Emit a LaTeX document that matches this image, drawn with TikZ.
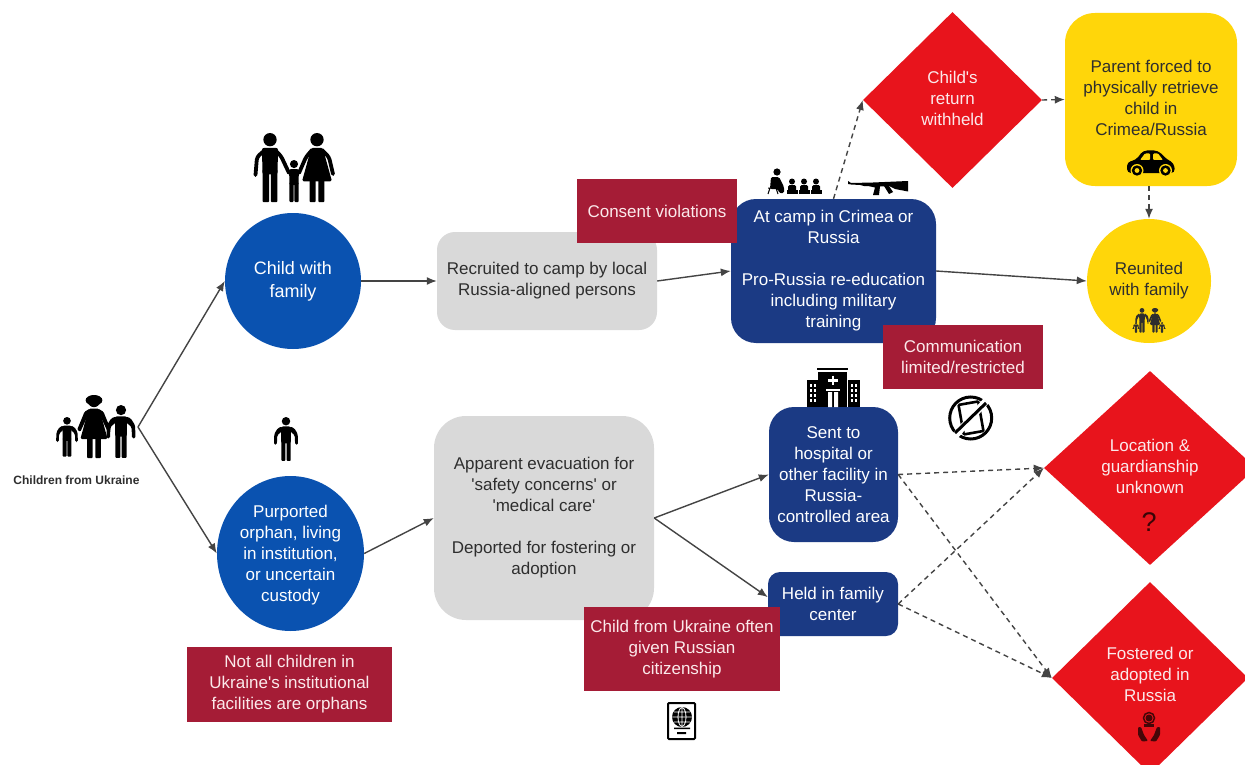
\documentclass[tikz,border=0pt]{standalone}
\usepackage{fontspec}
\setmainfont{Liberation Sans}
\newfontfamily\plainf{Liberation Sans}
\usetikzlibrary{arrows.meta,shapes.geometric}
\definecolor{blu}{HTML}{0A52B0}
\definecolor{nav}{HTML}{1B3A84}
\definecolor{mar}{HTML}{A51C36}
\definecolor{gry}{HTML}{D9D9D9}
\definecolor{yel}{HTML}{FFD60A}
\definecolor{rd}{HTML}{E8141C}
\definecolor{ink}{HTML}{2E2E2E}
\definecolor{lin}{HTML}{444444}
\definecolor{pale}{HTML}{FBE9EB}
\newcommand{\lift}[1]{\\[\dimexpr #1pt*2-21pt\relax]\mbox{}}
\newcommand{\sq}{{\plainf '}}
\tikzset{
 txt/.style={font=\fontsize{17}{21}\selectfont,align=center,inner sep=0pt,text=white},
 circ/.style={txt,ellipse,fill=blu},
 greybox/.style={txt,rectangle,fill=gry,text=ink},
 navybox/.style={txt,rectangle,fill=nav},
 redbox/.style={txt,rectangle,fill=mar,text=pale},
 dia/.style={txt,diamond,fill=rd,text=pale},
 conn/.style={draw=lin,line width=1.4pt,-{Latex[length=10pt,width=8pt]}},
 dconn/.style={conn,dash pattern=on 5pt off 4pt},
 manbody/.pic={
  \fill (0,5.8) circle (5.8);
  \fill[rounded corners=2] (-7,13) -- (7,13) -- (6.5,36) -- (-6.5,36) -- cycle;
  \fill[rounded corners=.8] (-6.5,32) rectangle (-.7,60);
  \fill[rounded corners=.8] (.7,32) rectangle (6.5,60);
 },
 manicon/.pic={
  \fill (0,5.8) circle (5.8);
  \fill[rounded corners=2] (-7,13) -- (7,13) -- (6.5,36) -- (-6.5,36) -- cycle;
  \fill[rounded corners=.8] (-6.5,32) rectangle (-.7,60);
  \fill[rounded corners=.8] (.7,32) rectangle (6.5,60);
  \fill[rounded corners=1.5] (-5,13)--(-11,15)--(-16,23)--(-16.5,38)--(-12.5,38)--(-12,25)--(-6,20)--cycle;
  \fill[rounded corners=1.5] (5,13)--(11,15)--(16,23)--(16.5,38)--(12.5,38)--(12,25)--(6,20)--cycle;
 },
 womanbody/.pic={
  \fill (0,5.8) circle (5.8);
  \fill[rounded corners=1.5] (-5,13)--(5,13)--(13,42)--(-13,42)--cycle;
  \fill[rounded corners=.8] (-6.5,40) rectangle (-1.2,60);
  \fill[rounded corners=.8] (1.2,40) rectangle (6.5,60);
 },
 womanicon/.pic={
  \fill (0,5.8) circle (5.8);
  \fill (0,5) ellipse (8 and 5);
  \fill[rounded corners=1.5] (-5,13)--(5,13)--(13,42)--(-13,42)--cycle;
  \fill[rounded corners=.8] (-6.5,40) rectangle (-1.2,60);
  \fill[rounded corners=.8] (1.2,40) rectangle (6.5,60);
  \fill[rounded corners=1] (-4,13)--(-9,16)--(-16,33)--(-13,35)--(-7,22)--cycle;
  \fill[rounded corners=1] (4,13)--(9,16)--(16,33)--(13,35)--(7,22)--cycle;
 },
}
\begin{document}
\begin{tikzpicture}[x=1pt,y=-1pt]
\clip (0,0) rectangle (1245,765);
\fill[white] (0,0) rectangle (1245,765);

% nodes
\coordinate (start) at (138,427);
\node[circ,minimum width=136,minimum height=136,font=\fontsize{18}{23}\selectfont] (family) at (293,281) {Child with\\family};
\node[circ,minimum width=147,minimum height=155] (orphan) at (290.5,553.5) {\mbox{}\\[-5pt]Purported\\orphan, living\\in institution,\\or uncertain\\custody};
\node[greybox,rounded corners=18,minimum width=220,minimum height=98] (recruit) at (547,281) {Recruited to camp by local\\Russia-aligned persons};
\node[greybox,rounded corners=32,minimum width=220,minimum height=204] (evac) at (544,518) {Apparent evacuation for\\\sq safety concerns\sq{} or\\\sq medical care\sq\\[21pt]Deported for fostering or\\adoption};
\node[navybox,rounded corners=25,minimum width=205,minimum height=144] (camp) at (833.5,271) {At camp in Crimea or\\Russia\\[21pt]Pro-Russia re-education\\including military\\training};
\node[navybox,rounded corners=25,minimum width=129,minimum height=135] (hospital) at (833.5,474.5) {Sent to\\hospital or\\other facility in\\Russia-\\controlled area};
\node[navybox,rounded corners=12,minimum width=130,minimum height=64] (held) at (833,604) {Held in family\\center};
\node[redbox,minimum width=160,minimum height=64] (comm) at (963,357) {Communication\\limited/restricted};
\node[redbox,minimum width=205,minimum height=75] (notall) at (289.5,684.5) {Not all children in\\Ukraine\sq s institutional\\facilities are orphans};
\node[redbox,minimum width=196,minimum height=84] (citizen) at (682,649) {Child from Ukraine often\\given Russian\\citizenship};
\node[dia,minimum width=179,minimum height=176,shape aspect=1] (withheld) at (952.5,100) {Child\sq s\\return\\withheld\lift{2}};
\node[dia,minimum width=212,minimum height=194,shape aspect=1.1] (location) at (1150,468) {Location \&\\guardianship\\unknown\lift{2}};
\node[dia,minimum width=196,minimum height=192,shape aspect=1] (fostered) at (1150,678) {Fostered or\\adopted in\\Russia\lift{4}};
\node[txt,rectangle,rounded corners=30,fill=yel,text=ink,minimum width=172,minimum height=173] (parent) at (1151,99.5) {Parent forced to\\physically retrieve\\child in\\Crimea/Russia\lift{2}};
\node[txt,circle,fill=yel,text=ink,minimum width=124] (reunited) at (1149,281) {Reunited\\with family};
\node[font=\bfseries\fontsize{12}{14}\selectfont,text=ink,inner sep=0pt] (origin) at (76.5,480) {Children from Ukraine};
\node[txt,font=\fontsize{27}{27}\selectfont,text=black!75!rd] (qmark) at (1149,522) {?};
% the consent box lies over the camp box
\node[redbox,minimum width=160,minimum height=64] (consent) at (657,211) {Consent violations};

% connectors
\draw[conn] (start) -- (family.west);
\draw[conn] (start) -- (orphan.west);
\draw[conn] (family.east) -- (recruit.west);
\draw[conn] (recruit.east) -- (camp.west);
\draw[conn] (camp.east) -- (reunited.west);
\draw[conn] (orphan.east) -- (evac.west);
\draw[conn] (evac.east) -- (hospital.west);
\draw[conn] (evac.east) -- (held.174);
\draw[dconn] (camp.north) -- (withheld.west);
\draw[dconn] (withheld.east) -- (parent.west);
\draw[dconn] (reunited.north |- parent.south) -- (reunited.north);
\draw[dconn] (hospital.east) -- (location.west);
\draw[dconn] (hospital.east) -- (fostered.west);
\draw[dconn] (held.east) -- (location.west);
\draw[dconn] (held.east) -- (fostered.west);

% top family
\pic[scale=1.15] at (270,133) {manbody};
\pic[scale=1.15] at (317,133) {womanbody};
\pic[scale=.7] at (294,160) {manbody};
\draw[line width=3.8,line cap=round,line join=round,rounded corners=3] (265,150)--(257,157)--(255.5,175);
\draw[line width=3.8,line cap=round,line join=round,rounded corners=3] (275,150)--(281,156)--(289,173);
\draw[line width=3.8,line cap=round,line join=round,rounded corners=3] (312,150)--(306,157)--(299,173);
\draw[line width=3.8,line cap=round,line join=round,rounded corners=3] (322,150)--(329,157)--(333,174);

% left family
\pic[scale=.66] at (67,417) {manicon};
\pic[scale=1.05] at (94,395) {womanicon};
\pic[scale=.88] at (121,405) {manicon};
% single child
\pic[scale=.73] at (286,417) {manicon};

% teacher and pupils
\fill (777,172) circle (3.6);
\fill[rounded corners=1.5] (771,177)--(779,177)--(784,187)--(784,193)--(779,193)--(778,189)--(770,189)--cycle;
\draw[line width=1] (768,188)--(778,188) (770,188)--(768,194) (776,188)--(778,194);
\foreach \xx in {792,804,816}{
 \fill (\xx,181.5) circle (3);
 \fill[rounded corners=1.5] (\xx-4,185) rectangle (\xx+4,193);
 \fill (\xx-5.5,189.5) rectangle (\xx+5.5,193.5);
}
% rifle
\fill (848,181)--(851,183)--(873,182.5)--(908,181)--(908,191.5)--(895,189)--(889,186)--(880,186.5)--(879,195)--(873,195)--(875,187.5)--(868,186)--(864,186)--(860,185)--(851,184.5)--(848,184)--cycle;
\fill (884,186)--(889,186)--(893,192)--(889,194)--cycle;

% car
\fill[rounded corners=4] (1127,173)--(1127,162)--(1136,160)--(1143,150.5)--(1158,150.5)--(1167,159.5)--(1174,163)--(1175,173)--cycle;
\fill[yel,rounded corners=1] (1140,160)--(1145,153.5)--(1150,153.5)--(1150,160)--cycle (1153,160)--(1153,153.5)--(1158,153.5)--(1163,160)--cycle;
\fill[yel] (1137,170.5) circle (6.5);\fill[yel] (1165.5,170.5) circle (6.5);
\fill (1137,170.5) circle (5.2);\fill (1165.5,170.5) circle (5.2);
\fill[yel] (1137,170.5) circle (2.4);\fill[yel] (1165.5,170.5) circle (2.4);

% small family in reunited
\begin{scope}[ink]
\pic[scale=.41] at (1142,308) {manicon};
\pic[scale=.41] at (1155,308) {womanicon};
\pic[scale=.18] at (1136,322) {manicon};
\pic[scale=.18] at (1162,322) {manicon};
\end{scope}

% hospital
\fill (817,367.5) rectangle (848,369.5);
\fill (818,372) rectangle (847,407);
\fill (807,380) rectangle (818,407);
\fill (848,380) rectangle (860,407);
\draw[white,line width=2.6] (833,375.5)--(833,385) (828,380.2)--(838,380.2);
\fill[white] (826,389) rectangle (840,391);
\fill[white] (828,392) rectangle (832,407) (834,392) rectangle (838,407);
\foreach \xx in {809.5,813.5,850.5,854.5}\foreach \yy in {384,389,394,399}{\fill[white] (\xx,\yy) rectangle (\xx+2.2,\yy+2.5);}

% no-phone icon
\draw[line width=3] (970.7,418) circle (21);
\begin{scope}[rotate around={10:(970.7,418)}]
\draw[line width=2.6,rounded corners=1] (961,403) rectangle (981,433);
\end{scope}
\draw[line width=7,white] (955,436)--(986,401);
\draw[line width=3] (955,433)--(986,403);

% passport
\draw[line width=2,rounded corners=1] (668,703) rectangle (695,739);
\fill (682,717) circle (10);
\draw[white,line width=.8] (682,717) ellipse (4 and 9.5) (672,717)--(692,717) (674,712)--(690,712) (674,722)--(690,722) (682,707)--(682,727);
\fill (674,727.5) rectangle (690,729) (677,732) rectangle (686,734);

% hands and figure
\begin{scope}[color=black!70!rd]
\draw[line width=1.5] (1149,718) circle (5.5);
\fill (1149,718) circle (3.5);
\fill (1144,724) rectangle (1154,727);
\fill[rounded corners=1] (1138,727)--(1141,727)--(1144,735)--(1148,741)--(1142,741.5)--(1138,735)--cycle;
\fill[rounded corners=1] (1160,727)--(1157,727)--(1154,735)--(1150,741)--(1156,741.5)--(1160,735)--cycle;
\end{scope}
\end{tikzpicture}
\end{document}
